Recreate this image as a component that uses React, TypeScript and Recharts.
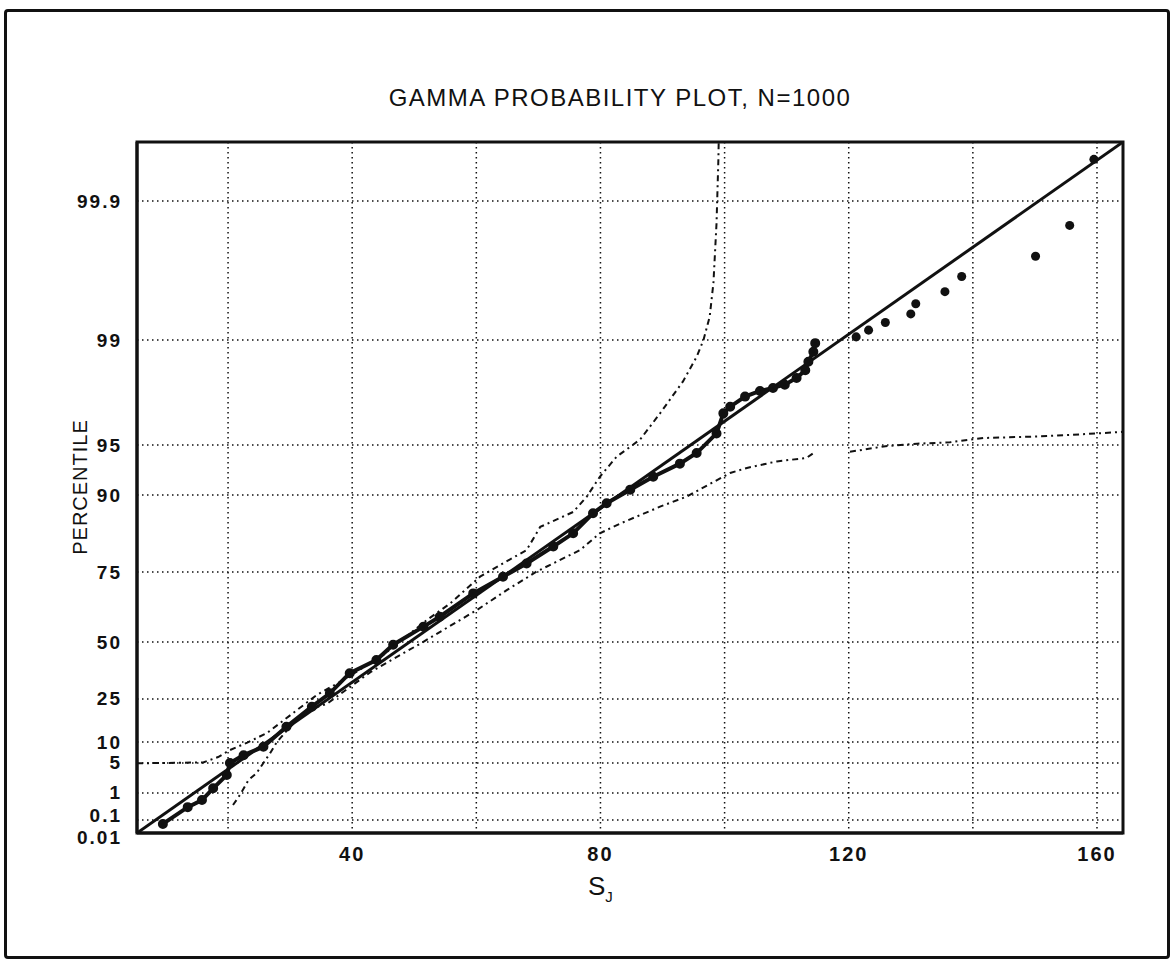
import { ComposedChart, Line, Scatter, XAxis, YAxis, CartesianGrid, ReferenceArea } from 'recharts';

// probability-scale knots: percentile -> position on the fitted gamma line (S units)
const probScalePct = [0.01, 0.1, 1, 5, 10, 25, 50, 75, 90, 95, 99, 99.9];
const probScalePos = [5.33, 8.31, 14.53, 21.43, 26.25, 36.14, 49.24, 65.33, 83.03, 94.52, 118.67, 150.62];
const pctLabels = ['0.01', '0.1', '1', '5', '10', '25', '50', '75', '90', '95', '99', '99.9'];

const sTicks = [20, 40, 60, 80, 100, 120, 140, 160];
const sDomain: [number, number] = [5.33, 164.19];

// fitted gamma line
const fitS = [5.33, 164.19];
const fitPct = [0.01, 99.9625];

// empirical quantiles (dense part)
const empS = [9.5, 13.5, 15.8, 17.6, 19.8, 20.3, 22.5, 25.7, 29.4, 33.5, 36.4, 39.6, 43.9, 46.6, 51.5, 54.1, 59.5, 64.3, 68.1, 72.4, 75.6, 78.8, 81.0, 84.8, 88.5, 92.8, 95.5, 98.7, 99.8, 100.9, 103.3, 105.7, 107.8, 109.7, 111.6, 113.0, 113.5, 114.3, 114.6];
const empPct = [0.05, 0.3, 0.55, 1.29, 2.65, 5.0, 6.5, 8.6, 14.1, 21.5, 27.1, 35.4, 41.4, 48.7, 56.0, 59.8, 68.2, 73.6, 77.2, 81.2, 83.9, 87.4, 88.9, 90.7, 92.2, 93.5, 94.4, 95.8, 96.9, 97.2, 97.6, 97.8, 97.9, 98.0, 98.2, 98.4, 98.6, 98.8, 98.95];

// largest order statistics
const tailS = [121.2, 123.2, 125.9, 130.0, 130.8, 135.5, 138.2, 150.1, 155.6, 159.5];
const tailPct = [99.05, 99.15, 99.25, 99.35, 99.45, 99.55, 99.65, 99.75, 99.85, 99.95];

// confidence bands
const upperS = [5.33, 16.0, 18.4, 20.3, 23.1, 26.3, 30.0, 34.3, 38.6, 45.0, 52.0, 55.8, 60.6, 63.8, 68.1, 70.3, 75.6, 77.8, 79.9, 82.6, 86.4, 89.6, 93.3, 95.5, 96.6, 97.6, 98.2, 98.7, 99.0, 99.05];
const upperPct = [4.9, 5.1, 6.1, 7.7, 9.8, 12.3, 18.0, 26.5, 32.5, 43.8, 58.5, 64.7, 73.6, 76.8, 80.4, 85.1, 87.6, 89.8, 92.2, 94.1, 95.4, 96.9, 98.1, 98.7, 99.0, 99.32, 99.61, 99.855, 99.95, 99.962];

const lowerS = [20.8, 21.9, 23.3, 24.6, 25.7, 26.8, 27.8, 29.4, 32.6, 35.9, 43.0, 51.3, 60.1, 64.9, 69.7, 76.7, 79.9, 83.2, 89.6, 93.9, 100.9, 103.6, 108.4, 113.2, 114.6];
const lowerPct = [0.36, 0.84, 2.02, 2.94, 5.0, 7.0, 9.8, 12.8, 20.0, 22.7, 36.0, 49.8, 62.3, 69.3, 75.1, 80.4, 83.9, 85.7, 88.4, 89.8, 92.6, 93.1, 93.7, 94.0, 94.5];
const lowerTailS = [120.2, 125.6, 131.0, 136.3, 141.7, 150.3, 155.6, 160.0, 164.19];
const lowerTailPct = [94.5, 94.9, 95.1, 95.2, 95.5, 95.6, 95.7, 95.8, 95.9];

const logit = (p: number) => Math.log10(p / (100 - p));
const knots = probScalePct.map(logit);

function toAxis(p: number) {
  const L = logit(p);
  let i = 0;
  while (i < knots.length - 2 && L > knots[i + 1]) i++;
  const t = (L - knots[i]) / (knots[i + 1] - knots[i]);
  return probScalePos[i] + t * (probScalePos[i + 1] - probScalePos[i]);
}

const pts = (s: number[], p: number[]) => s.map((x, i) => ({ x, y: toAxis(p[i]) }));

const yTicks = probScalePct.map(toAxis);
const nearestTick = (v: number) => {
  let best = 0;
  yTicks.forEach((t, i) => {
    if (Math.abs(t - v) < Math.abs(yTicks[best] - v)) best = i;
  });
  return best;
};

const font = '"Liberation Sans", Arial, sans-serif';
const tickStyle = { fontSize: 20, fontWeight: 700, fill: '#111', fontFamily: font, letterSpacing: 2 };

// the two lowest labels sit almost on top of each other, nudge them apart a little
function PctTick(props: any) {
  const { x, y, payload } = props;
  const idx = nearestTick(payload.value);
  const shift = idx === 0 ? 4 : idx === 1 ? -5 : 0;
  return (
    <text x={x} y={y + shift} textAnchor="end" dominantBaseline="central" fontSize={19} fontWeight={700} fill="#111" fontFamily={font} letterSpacing={2}>
      {pctLabels[idx]}
    </text>
  );
}

export default function App() {
  return (
    <div style={{ position: 'absolute', left: 0, top: 0, width: 1173, height: 961, background: '#fff', fontFamily: font }}>
      <div
        style={{
          position: 'absolute',
          left: 4,
          top: 9,
          width: 1160,
          height: 944,
          border: '3px solid #111',
          borderRadius: 4,
        }}
      />
      <div
        style={{
          position: 'absolute',
          left: 0,
          width: 1240,
          top: 84,
          textAlign: 'center',
          fontSize: 24,
          letterSpacing: 1.5,
          color: '#111',
        }}
      >
        GAMMA PROBABILITY PLOT, N=1000
      </div>
      <ComposedChart
        width={1173}
        height={961}
        margin={{ top: 142, right: 50, bottom: 88, left: 77 }}
        style={{ position: 'absolute', left: 0, top: 0 }}
      >
        <CartesianGrid stroke="#111" strokeWidth={1.5} strokeDasharray="1.5 3.5" />
        <XAxis
          type="number"
          dataKey="x"
          domain={sDomain}
          ticks={sTicks}
          interval={0}
          allowDataOverflow
          tickSize={0}
          tickMargin={14}
          tick={tickStyle}
          tickFormatter={(v: number) => (v % 40 === 0 ? String(v) : '')}
          axisLine={{ stroke: '#111', strokeWidth: 3 }}
          height={40}
          label={{
            content: () => (
              <text x={588} y={895} fontSize={26} fontFamily={font} fill="#111">
                S
                <tspan dy={7} fontSize={15}>J</tspan>
              </text>
            ),
          }}
        />
        <YAxis
          type="number"
          dataKey="y"
          domain={sDomain}
          ticks={yTicks}
          interval={0}
          allowDataOverflow
          tickSize={0}
          tickMargin={15}
          tick={<PctTick />}
          axisLine={{ stroke: '#111', strokeWidth: 3 }}
          width={60}
          label={{
            content: () => (
              <text
                x={80}
                y={487}
                transform="rotate(-90 80 487)"
                textAnchor="middle"
                dominantBaseline="central"
                fontSize={20}
                fontFamily={font}
                fill="#111"
                letterSpacing={1}
              >
                PERCENTILE
              </text>
            ),
          }}
        />
        <ReferenceArea
          x1={sDomain[0]}
          x2={sDomain[1]}
          y1={sDomain[0]}
          y2={sDomain[1]}
          fill="none"
          stroke="#111"
          strokeWidth={3}
          ifOverflow="visible"
        />
        <Line data={pts(upperS, upperPct)} dataKey="y" type="linear" stroke="#111" strokeWidth={2} strokeDasharray="6 4 2 4" dot={false} isAnimationActive={false} />
        <Line data={pts(lowerS, lowerPct)} dataKey="y" type="linear" stroke="#111" strokeWidth={2} strokeDasharray="6 4 2 4" dot={false} isAnimationActive={false} />
        <Line data={pts(lowerTailS, lowerTailPct)} dataKey="y" type="linear" stroke="#111" strokeWidth={2} strokeDasharray="6 4 2 4" dot={false} isAnimationActive={false} />
        <Line data={pts(fitS, fitPct)} dataKey="y" type="linear" stroke="#111" strokeWidth={3} dot={false} isAnimationActive={false} />
        <Line
          data={pts(empS, empPct)}
          dataKey="y"
          type="linear"
          stroke="#111"
          strokeWidth={4}
          dot={{ r: 3, fill: '#111', stroke: '#111' }}
          isAnimationActive={false}
        />
        <Scatter data={pts(tailS, tailPct)} dataKey="y" fill="#111" shape="circle" isAnimationActive={false} />
      </ComposedChart>
    </div>
  );
}
